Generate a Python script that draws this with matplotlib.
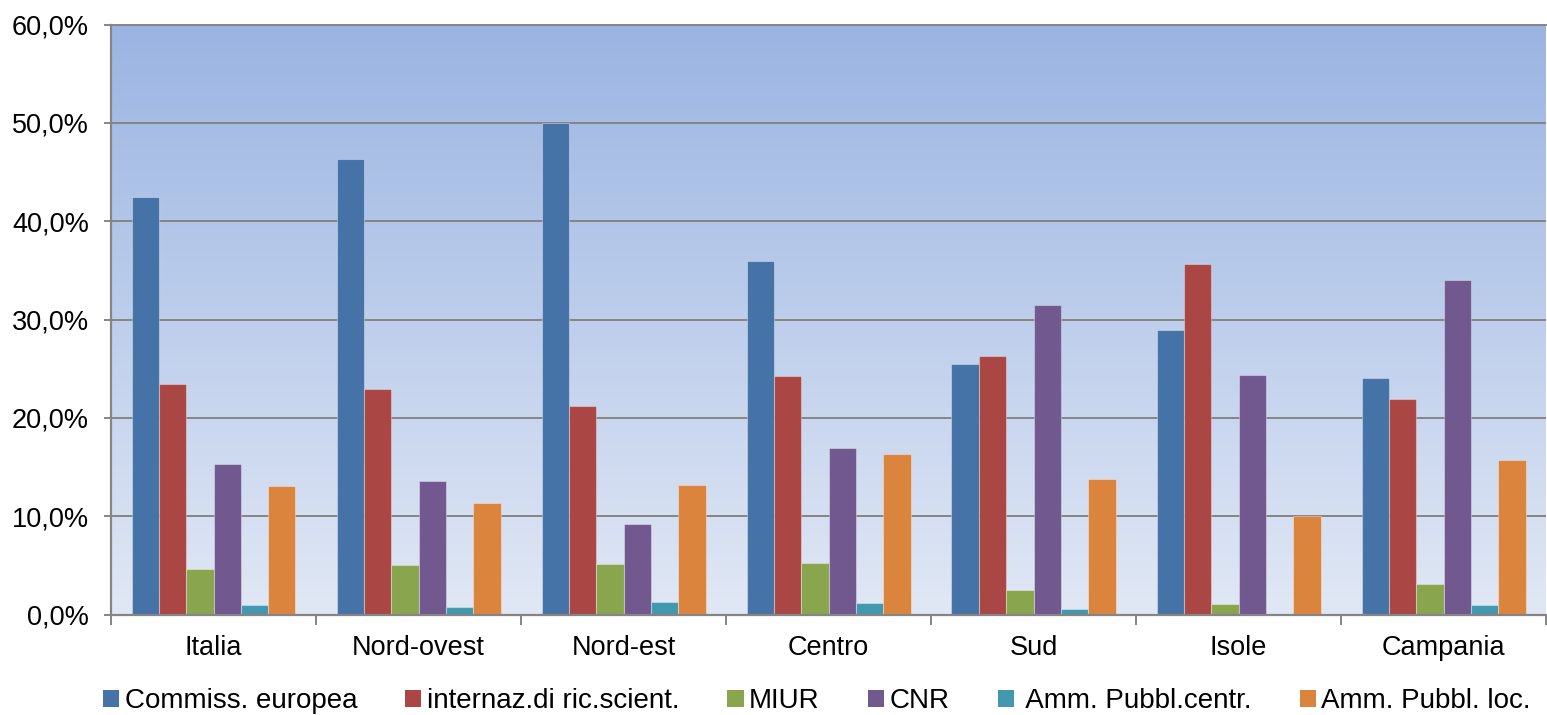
import numpy as np
import matplotlib
matplotlib.use("Agg")
from matplotlib import pyplot as plt
from matplotlib.patches import Patch
from matplotlib.ticker import FuncFormatter, FixedLocator

plt.rcParams["font.family"] = ["Liberation Sans", "DejaVu Sans"]

# dati (valori in %)
regioni = ["Italia", "Nord-ovest", "Nord-est", "Centro", "Sud", "Isole", "Campania"]
serie = ["Commiss. europea", "internaz.di ric.scient.", "MIUR", "CNR",
         " Amm. Pubbl.centr.", "Amm. Pubbl. loc."]
commiss = [42.5, 46.3, 50.0, 36.0, 25.5, 28.9, 24.1]
internaz = [23.4, 22.9, 21.2, 24.3, 26.3, 35.6, 21.9]
miur = [4.6, 5.0, 5.1, 5.2, 2.5, 1.1, 3.1]
cnr = [15.3, 13.6, 9.2, 16.9, 31.5, 24.4, 34.0]
amm_centr = [1.0, 0.8, 1.3, 1.2, 0.6, 0.0, 1.0]
amm_loc = [13.1, 11.3, 13.2, 16.3, 13.8, 10.0, 15.7]
colori = ["#4572A7", "#AA4643", "#89A54E", "#71588F", "#4198AF", "#DB843D"]

valori = [commiss, internaz, miur, cnr, amm_centr, amm_loc]

fig = plt.figure(figsize=(15.47, 7.15), dpi=100)
ax = fig.add_axes([111 / 1547, 1 - 614.5 / 715, 1435 / 1547, 590 / 715])

# sfondo sfumato
grad = np.linspace(0, 1, 256).reshape(-1, 1)
top = np.array([154, 180, 226]) / 255
bot = np.array([225, 232, 245]) / 255
img = top[None, None, :] * (1 - grad[:, :, None]) + bot[None, None, :] * grad[:, :, None]
ax.imshow(img, extent=[0, 7, 0, 60], aspect="auto", zorder=0, origin="upper")

n = len(valori)
w = 0.8 / n
x = np.arange(len(regioni))
for k in range(n):
    ax.bar(x + 0.1 + w * (k + 0.5), valori[k], width=w, color=colori[k],
           edgecolor=(1, 1, 1, 0.35), linewidth=0.8, zorder=3)

ax.set_xlim(0, 7)
ax.set_ylim(0, 60)
ax.set_yticks(np.arange(0, 61, 10))
ax.yaxis.set_major_formatter(FuncFormatter(lambda v, p: f"{v:.1f}%".replace(".", ",")))
ax.grid(axis="y", color="#858585", linewidth=1.4, zorder=1)
ax.set_axisbelow(False)

ax.xaxis.set_major_locator(FixedLocator(np.arange(0, 8)))
ax.xaxis.set_major_formatter(FuncFormatter(lambda v, p: ""))
ax.xaxis.set_minor_locator(FixedLocator(x + 0.5))
ax.set_xticklabels(regioni, minor=True)
ax.tick_params(axis="x", which="major", length=7.5, width=1.4, color="#858585", direction="out")
ax.tick_params(axis="x", which="minor", length=0, pad=15, labelsize=19.5)
ax.tick_params(axis="y", length=5, width=1.4, color="#858585", pad=11, labelsize=19.5)

ax.spines["right"].set_visible(False)
ax.spines["top"].set_color("#858585")
ax.spines["top"].set_linewidth(1.4)
for s in ["left", "bottom"]:
    ax.spines[s].set_color("#858585")
    ax.spines[s].set_linewidth(1.6)
    ax.spines[s].set_zorder(4)

handles = [Patch(facecolor=c, edgecolor="none") for c in colori]
fig.legend(handles, serie, loc="center left", bbox_to_anchor=(103 / 1547, 14 / 715),
           ncol=6, frameon=False, fontsize=20, handlelength=0.58, handleheight=0.58,
           handletextpad=0.2, columnspacing=1.73, borderpad=0, borderaxespad=0)

fig.savefig("out.png", dpi=100)
